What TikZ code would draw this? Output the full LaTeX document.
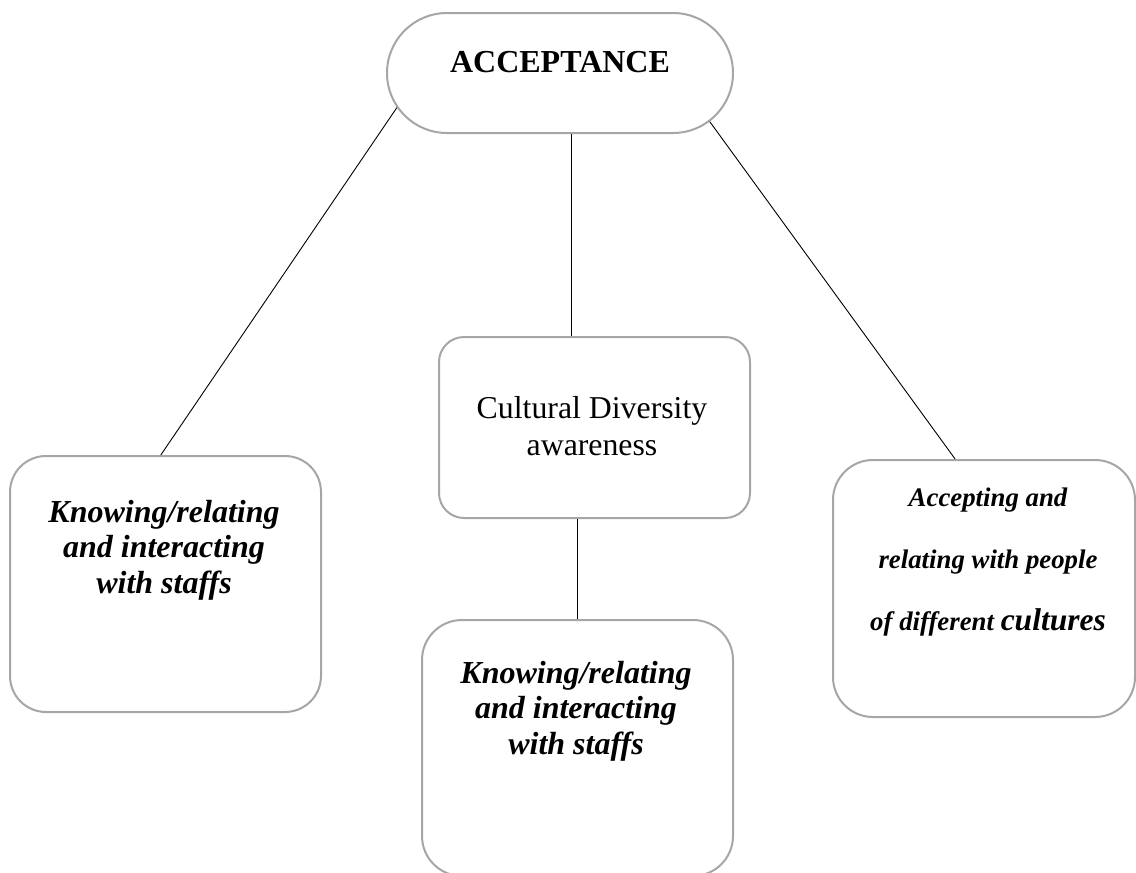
\documentclass[tikz,border=0pt]{standalone}
\usepackage{fontspec}
\setmainfont{Liberation Serif}
\usetikzlibrary{calc,shapes.misc}
\definecolor{boxgray}{HTML}{A6A6A6}
\tikzset{
  boxnode/.style={draw=boxgray, line width=2pt, rectangle, inner sep=0pt, fill=white},
  conn/.style={draw=black, line width=0.9pt},
  txt/.style={inner sep=0pt, align=center, text=black}
}
\begin{document}
\begin{tikzpicture}[x=1pt,y=-1pt]
\useasboundingbox (0,0) rectangle (1136,873);
% boxes
\node[boxnode, rounded rectangle, minimum width=346, minimum height=120] (A) at (560,73) {};
\node[boxnode, rounded corners=25, minimum width=311, minimum height=181] (C) at (594.5,427.5) {};
\node[boxnode, rounded corners=36, minimum width=311, minimum height=256] (L) at (165.5,584) {};
\node[boxnode, rounded corners=40, minimum width=311, minimum height=256] (B) at (577.5,748) {};
\node[boxnode, rounded corners=40, minimum width=302, minimum height=257] (R) at (984,588.5) {};
% texts
\node[txt, anchor=base, font=\fontsize{32}{36}\selectfont\bfseries] (At) at (560,72) {ACCEPTANCE};
\node[txt, font=\fontsize{31.8}{37}\selectfont] (Ct) at (592,426) {Cultural Diversity\\awareness};
\node[txt, font=\fontsize{32}{35.5}\selectfont\bfseries\itshape] (Lt) at (164,550) {Knowing/relating\\and interacting\\with staffs};
\node[txt, font=\fontsize{32}{35.5}\selectfont\bfseries\itshape] (Bt) at (576,711) {Knowing/relating\\and interacting\\with staffs};
\node[txt, font=\fontsize{26.8}{62}\selectfont\bfseries\itshape] (Rt) at (988,562) {Accepting and\\relating with people\\of different {\fontsize{31.5}{64}\selectfont cultures}};
% connectors
\draw[conn] (A.192) -- ($(L.north west)!0.485!(L.north east)$);
\draw[conn] (A.-18) -- ($(R.north west)!0.405!(R.north east)$);
\coordinate (m1) at ($(A.south)+(11,0)$);
\draw[conn] (m1) -- (m1 |- C.north);
\draw[conn] (B.north) -- (B.north |- C.south);
\end{tikzpicture}
\end{document}
